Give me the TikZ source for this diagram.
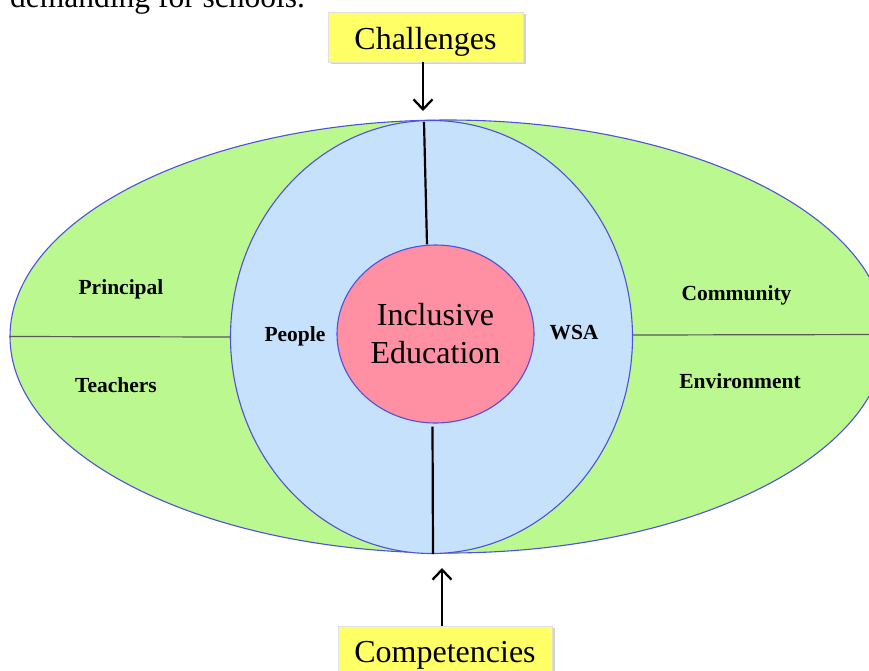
\documentclass[tikz,border=0pt]{standalone}
\usepackage{fontspec}
\setmainfont{Liberation Serif}
\usetikzlibrary{shapes.geometric,arrows.meta,shadows}
\definecolor{greenfill}{HTML}{BBF890}
\definecolor{bluefill}{HTML}{C6E1FB}
\definecolor{pinkfill}{HTML}{FF8FA3}
\definecolor{yellowfill}{HTML}{FFFF66}
\definecolor{rimblue}{HTML}{5050DD}
\tikzset{
  ring/.style={ellipse, draw=rimblue, line width=1.1pt, inner sep=0pt},
  divider/.style={draw=black!65, line width=1.2pt},
  spoke/.style={draw=black, line width=2.2pt},
  lbl/.style={anchor=base, inner sep=0pt, font=\fontsize{21.5}{24}\selectfont\bfseries},
  ybox/.style={draw=black!12, fill=yellowfill, line width=0.6pt, anchor=base, inner sep=0pt,
    align=center, font=\fontsize{32}{36}\selectfont,
    drop shadow={shadow xshift=2.5pt, shadow yshift=-2pt, fill=black!35, opacity=0.5}},
  arr/.style={draw=black, line width=2.3pt, -{Straight Barb[length=10pt,width=19pt,line width=2.3pt]}}
}
\begin{document}
\begin{tikzpicture}[x=1pt,y=-1pt]
\useasboundingbox (0,0) rectangle (869,670);
\clip (0,0) rectangle (869,670);
\fill[white] (0,0) rectangle (869,670);
\node[anchor=base west, inner sep=0pt, font=\fontsize{31.5}{36}\selectfont] (intro) at (10,7.5) {demanding for schools.};
% outer ellipse
\node[ring, fill=greenfill, minimum width=876pt, minimum height=433pt] (outer) at (448,336.5) {};
% middle circle
\node[ring, fill=bluefill, minimum width=402pt, minimum height=433pt] (mid) at (431.5,337) {};
\draw[divider] (outer.west) -- (mid.west);
\draw[divider] ([yshift=2pt]mid.east) -- ([yshift=2pt]outer.east);
% inner ellipse
\node[ring, fill=pinkfill, minimum width=197pt, minimum height=178pt, align=center,
  font=\fontsize{32}{38}\selectfont] (inner) at (435.5,334) {Inclusive\\Education};
\draw[spoke] ([xshift=-7.5pt,yshift=-2pt]mid.north) -- ([xshift=-8.5pt]inner.north);
\draw[spoke] ([xshift=-3pt,yshift=-3pt]inner.south) -- ([xshift=1.5pt]mid.south);
% labels
\node[lbl] (principal) at (121,294) {Principal};
\node[lbl] (teachers) at (116,392) {Teachers};
\node[lbl] (people) at (295,341) {People};
\node[lbl] (wsa) at (574,339) {WSA};
\node[lbl] (community) at (736.5,300) {Community};
\node[lbl] (environment) at (740,388) {Environment};
% boxes
\node[ybox, minimum width=195pt, text height=37pt, text depth=13pt] (chal) at (425.5,49) {Challenges};
\node[ybox, minimum width=214pt, text height=36pt, text depth=16pt] (comp) at (445,662) {Competencies};
\coordinate (chaltip) at (423,111);
\coordinate (comptip) at (442,568);
\draw[arr] (chal.south -| chaltip) -- (chaltip);
\draw[arr] (comp.north -| comptip) -- (comptip);
\end{tikzpicture}
\end{document}
